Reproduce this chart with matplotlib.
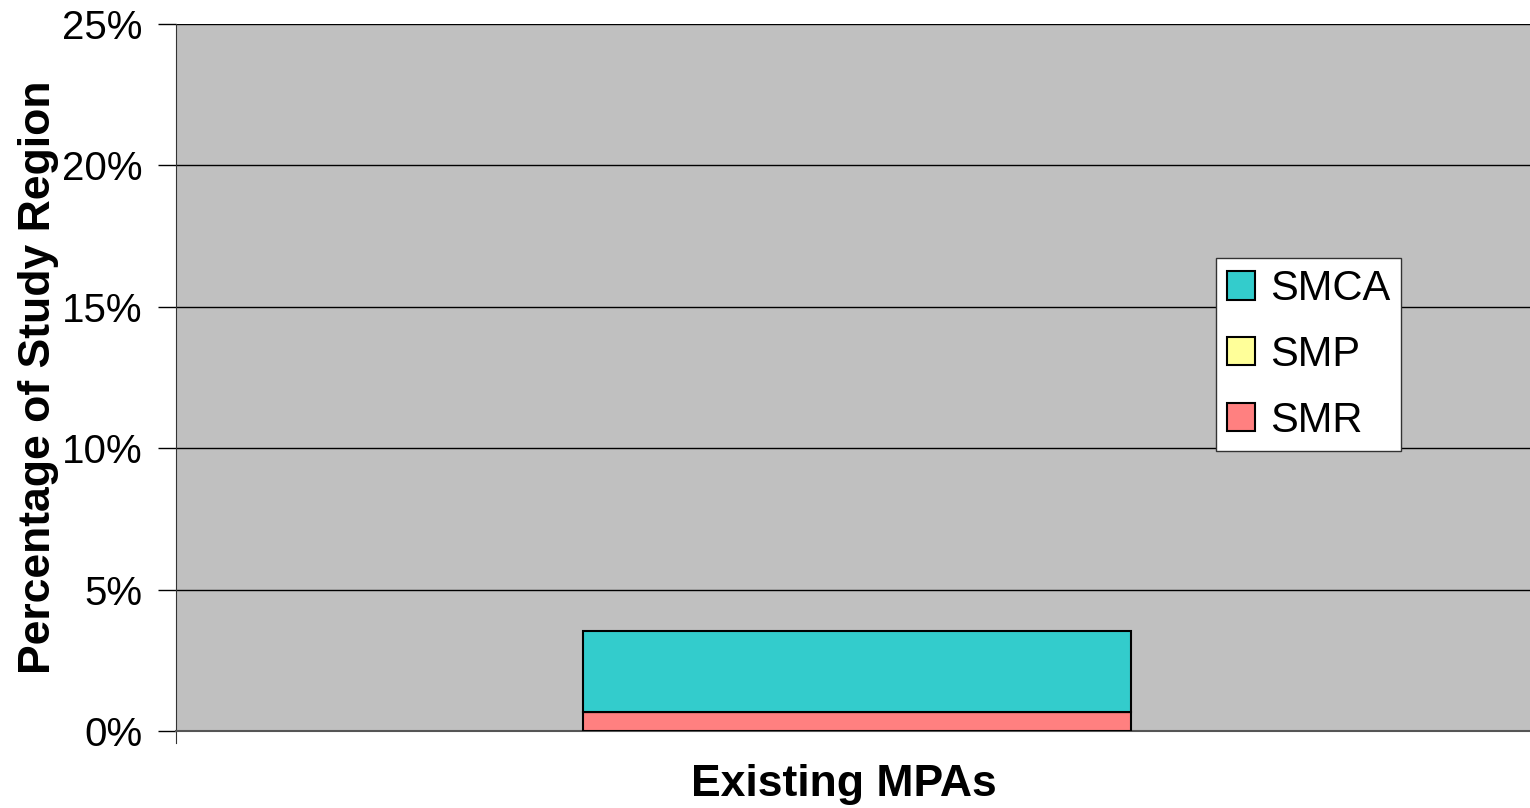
import matplotlib
matplotlib.use("Agg")
import matplotlib.pyplot as plt
from matplotlib.ticker import FuncFormatter

categories = ["Existing MPAs"]
series_names = ["SMR", "SMP", "SMCA"]
smr = [0.67]
smp = [0.0]
smca = [2.87]
colors = {"SMR": "#FF8080", "SMP": "#FFFF99", "SMCA": "#33CCCC"}
yticks = [0, 5, 10, 15, 20, 25]

plt.rcParams['font.family'] = ['Liberation Sans', 'DejaVu Sans']

fig = plt.figure(figsize=(15.3, 8.08), dpi=100)
ax = fig.add_axes([176/1530, 1 - 731/808, (1530-176)/1530, (731-24)/808])
ax.set_facecolor("#C0C0C0")

x = list(range(len(categories)))
w = 0.405
b1 = ax.bar(x, smr, w, color=colors["SMR"], edgecolor="black", linewidth=1.5, label="SMR", zorder=3)
bottom2 = [a for a in smr]
b2 = ax.bar(x, smp, w, bottom=bottom2, color=colors["SMP"], edgecolor="black", linewidth=1.5, label="SMP", zorder=3)
bottom3 = [a + b for a, b in zip(smr, smp)]
b3 = ax.bar(x, smca, w, bottom=bottom3, color=colors["SMCA"], edgecolor="black", linewidth=1.5, label="SMCA", zorder=3)

ax.set_xlim(-0.503, 0.497)
ax.set_ylim(0, 25)
ax.set_yticks(yticks)
ax.yaxis.set_major_formatter(FuncFormatter(lambda v, p: f"{int(v)}%"))
ax.yaxis.grid(True, color="black", linewidth=1, zorder=1)
ax.set_axisbelow(True)
ax.set_xticks([])
for s in ["top", "right"]:
    ax.spines[s].set_visible(False)
ax.spines["left"].set_color("#333333")
ax.spines["left"].set_bounds(-0.42, 25)
ax.spines["bottom"].set_color("#555555")
ax.spines["bottom"].set_linewidth(1.5)
ax.tick_params(axis="y", length=13, width=1, labelsize=29, pad=11)

ax.set_ylabel("Percentage of Study Region", fontsize=32, fontweight="bold", labelpad=0)
ax.yaxis.set_label_coords((59-176)/1354, 0.5)
ax.set_xlabel(categories[0], fontsize=32, fontweight="bold")
ax.xaxis.set_label_coords((844-176)/1354, -(764-731)/707)

handles = [b3, b2, b1]
labels = ["SMCA", "SMP", "SMR"]
leg = ax.legend(handles, labels, loc="upper left", bbox_to_anchor=((1216-176)/1354, 1 - (258-24)/707),
                fontsize=30, frameon=True, fancybox=False, edgecolor="#333333", framealpha=1,
                handlelength=0.68, handleheight=0.68, handletextpad=0.36, borderpad=0.26, labelspacing=0.62,
                borderaxespad=0)
leg.get_frame().set_linewidth(1)

fig.savefig("out.png", dpi=100)
